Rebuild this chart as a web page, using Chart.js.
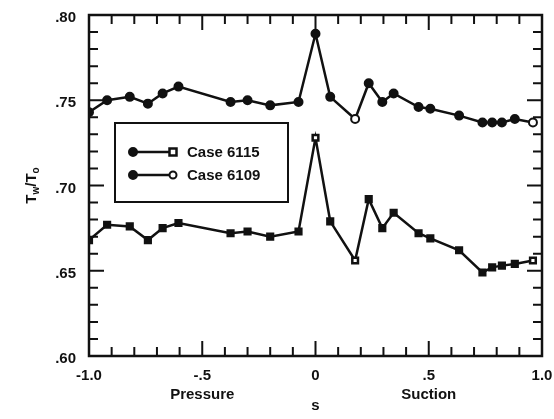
<!DOCTYPE html>
<html lang="en">
<head>
  <meta charset="UTF-8" />
  <title>Tw/To vs s</title>
  <script src="https://cdn.jsdelivr.net/npm/chart.js"></script>
  <style>
    html, body { margin: 0; padding: 0; background: #fff; }
    #wrap { width: 554px; height: 419px; }
  </style>
</head>
<body>
  <div id="wrap"><canvas id="twChart" width="554" height="419"></canvas></div>

  <script>
    // surface coordinate s (negative = pressure side, positive = suction side)
    const sPos = [-1.0, -0.92, -0.82, -0.74, -0.675, -0.605, -0.375, -0.30, -0.20, -0.075,
                  0.0, 0.065, 0.175, 0.235, 0.295, 0.345, 0.455, 0.507, 0.634, 0.737,
                  0.78, 0.823, 0.88, 0.96];
    const case6109 = [0.743, 0.750, 0.752, 0.748, 0.754, 0.758, 0.749, 0.750, 0.747, 0.749,
                      0.789, 0.752, 0.739, 0.760, 0.749, 0.754, 0.746, 0.745, 0.741, 0.737,
                      0.737, 0.737, 0.739, 0.737];
    const case6115 = [0.668, 0.677, 0.676, 0.668, 0.675, 0.678, 0.672, 0.673, 0.670, 0.673,
                      0.728, 0.679, 0.656, 0.692, 0.675, 0.684, 0.672, 0.669, 0.662, 0.649,
                      0.652, 0.653, 0.654, 0.656];
    // points plotted with hollow markers
    const openCircles = [12, 23];
    const openSquares = [10, 12, 23];

    const xTickVals = [-1, -0.5, 0, 0.5, 1];
    const xTickLabels = ['-1.0', '-.5', '0', '.5', '1.0'];
    const yTickVals = [0.60, 0.65, 0.70, 0.75, 0.80];
    const yTickLabels = ['.60', '.65', '.70', '.75', '.80'];
    const sideLabels = [{ at: -0.5, text: 'Pressure' }, { at: 0.5, text: 'Suction' }];
    const legendItems = ['Case 6115', 'Case 6109'];

    const INK = '#111';
    const FAMILY = '"Liberation Sans", Arial, sans-serif';
    const FONT = 'bold 15px ' + FAMILY;

    function toPoints(ys) {
      return sPos.map((s, i) => ({ x: s, y: ys[i] }));
    }

    function drawCircle(ctx, x, y, r, filled) {
      ctx.beginPath();
      ctx.arc(x, y, r, 0, Math.PI * 2);
      ctx.fillStyle = filled ? INK : '#fff';
      ctx.fill();
      ctx.lineWidth = 2;
      ctx.strokeStyle = INK;
      ctx.stroke();
    }

    function drawSquare(ctx, x, y, r) {
      ctx.fillStyle = '#fff';
      ctx.fillRect(x - r, y - r, 2 * r, 2 * r);
      ctx.lineWidth = 2.5;
      ctx.strokeStyle = INK;
      ctx.strokeRect(x - r, y - r, 2 * r, 2 * r);
    }

    // frame, inward ticks on all sides, legend box and the extra labels
    const plotFrame = {
      id: 'plotFrame',
      afterDatasetsDraw(chart) {
        const { ctx, chartArea: a, scales: { x, y } } = chart;
        ctx.save();
        ctx.strokeStyle = INK;
        ctx.lineWidth = 2;
        ctx.beginPath();
        for (let i = 0; i <= 20; i++) {
          const px = x.getPixelForValue(-1 + i * 0.1);
          const len = i % 5 === 0 ? 15 : 9;
          ctx.moveTo(px, a.bottom); ctx.lineTo(px, a.bottom - len);
          ctx.moveTo(px, a.top); ctx.lineTo(px, a.top + len);
        }
        for (let i = 0; i <= 20; i++) {
          const py = y.getPixelForValue(0.6 + i * 0.01);
          const len = i % 5 === 0 ? 15 : 9;
          ctx.moveTo(a.left, py); ctx.lineTo(a.left + len, py);
          ctx.moveTo(a.right, py); ctx.lineTo(a.right - len, py);
        }
        ctx.stroke();
        ctx.lineWidth = 2.5;
        ctx.strokeRect(a.left, a.top, a.right - a.left, a.bottom - a.top);

        // legend
        const bx = a.left + 26, by = a.top + 108, bw = 173, bh = 79;
        ctx.fillStyle = '#fff';
        ctx.fillRect(bx, by, bw, bh);
        ctx.lineWidth = 2;
        ctx.strokeRect(bx, by, bw, bh);
        ctx.font = FONT;
        ctx.textBaseline = 'middle';
        ctx.textAlign = 'left';
        legendItems.forEach((label, i) => {
          const ly = by + 29 + i * 23;
          const x0 = bx + 18, x1 = bx + 58;
          ctx.lineWidth = 2.5;
          ctx.strokeStyle = INK;
          ctx.beginPath(); ctx.moveTo(x0, ly); ctx.lineTo(x1, ly); ctx.stroke();
          drawCircle(ctx, x0, ly, 4, true);
          if (i === 0) drawSquare(ctx, x1, ly, 3.5);
          else drawCircle(ctx, x1, ly, 3.5, false);
          ctx.fillStyle = INK;
          ctx.fillText(label, bx + 72, ly + 1);
        });

        // Pressure / Suction under the axis
        ctx.textAlign = 'center';
        sideLabels.forEach(l => ctx.fillText(l.text, x.getPixelForValue(l.at), a.bottom + 39));

        // y title T_w/T_o, rotated
        ctx.translate(31, (a.top + a.bottom) / 2);
        ctx.rotate(-Math.PI / 2);
        const parts = [['T', 0], ['w', 1], ['/T', 0], ['o', 1]];
        const fonts = [FONT, 'bold 10px ' + FAMILY];
        let total = 0;
        parts.forEach(p => { ctx.font = fonts[p[1]]; total += ctx.measureText(p[0]).width; });
        let cx = -total / 2;
        ctx.textAlign = 'left';
        ctx.textBaseline = 'alphabetic';
        parts.forEach(p => {
          ctx.font = fonts[p[1]];
          ctx.fillText(p[0], cx, p[1] ? 8 : 5);
          cx += ctx.measureText(p[0]).width;
        });
        ctx.restore();
      }
    };

    const ctx = document.getElementById('twChart').getContext('2d');
    new Chart(ctx, {
      type: 'scatter',
      data: {
        datasets: [
          {
            label: legendItems[1],
            data: toPoints(case6109),
            showLine: true,
            borderColor: INK,
            borderWidth: 2.5,
            tension: 0,
            pointStyle: 'circle',
            pointRadius: 4,
            pointBorderWidth: 2,
            pointBorderColor: INK,
            pointBackgroundColor: case6109.map((_, i) => openCircles.includes(i) ? '#fff' : INK)
          },
          {
            label: legendItems[0],
            data: toPoints(case6115),
            showLine: true,
            borderColor: INK,
            borderWidth: 2.5,
            tension: 0,
            pointStyle: 'rect',
            pointRadius: 4,
            pointBorderWidth: 2.5,
            pointBorderColor: INK,
            pointBackgroundColor: case6115.map((_, i) => openSquares.includes(i) ? '#fff' : INK)
          }
        ]
      },
      options: {
        responsive: false,
        animation: false,
        layout: { padding: { top: 15, right: 12, left: 0, bottom: 0 } },
        plugins: { legend: { display: false }, tooltip: { enabled: false } },
        scales: {
          x: {
            type: 'linear',
            min: -1,
            max: 1,
            grid: { display: false, drawTicks: false },
            border: { display: false },
            afterBuildTicks: s => { s.ticks = xTickVals.map(v => ({ value: v })); },
            afterFit: s => { s.height = 63; s.paddingLeft = 0; s.paddingRight = 0; },
            ticks: {
              autoSkip: false,
              maxRotation: 0,
              padding: 11,
              color: INK,
              font: { family: FAMILY, size: 15, weight: 'bold' },
              callback: v => xTickLabels[xTickVals.indexOf(v)]
            },
            title: {
              display: true,
              text: 's',
              color: INK,
              padding: { top: 0, bottom: 4 },
              font: { family: FAMILY, size: 15, weight: 'bold' }
            }
          },
          y: {
            min: 0.6,
            max: 0.8,
            grid: { display: false, drawTicks: false },
            border: { display: false },
            afterBuildTicks: s => { s.ticks = yTickVals.map(v => ({ value: v })); },
            afterFit: s => { s.width = 89; s.paddingTop = 0; s.paddingBottom = 0; },
            ticks: {
              autoSkip: false,
              padding: 13,
              labelOffset: 3,
              color: INK,
              font: { family: FAMILY, size: 15, weight: 'bold' },
              callback: v => yTickLabels[yTickVals.findIndex(t => Math.abs(t - v) < 1e-9)]
            }
          }
        }
      },
      plugins: [plotFrame]
    });
  </script>
</body>
</html>
